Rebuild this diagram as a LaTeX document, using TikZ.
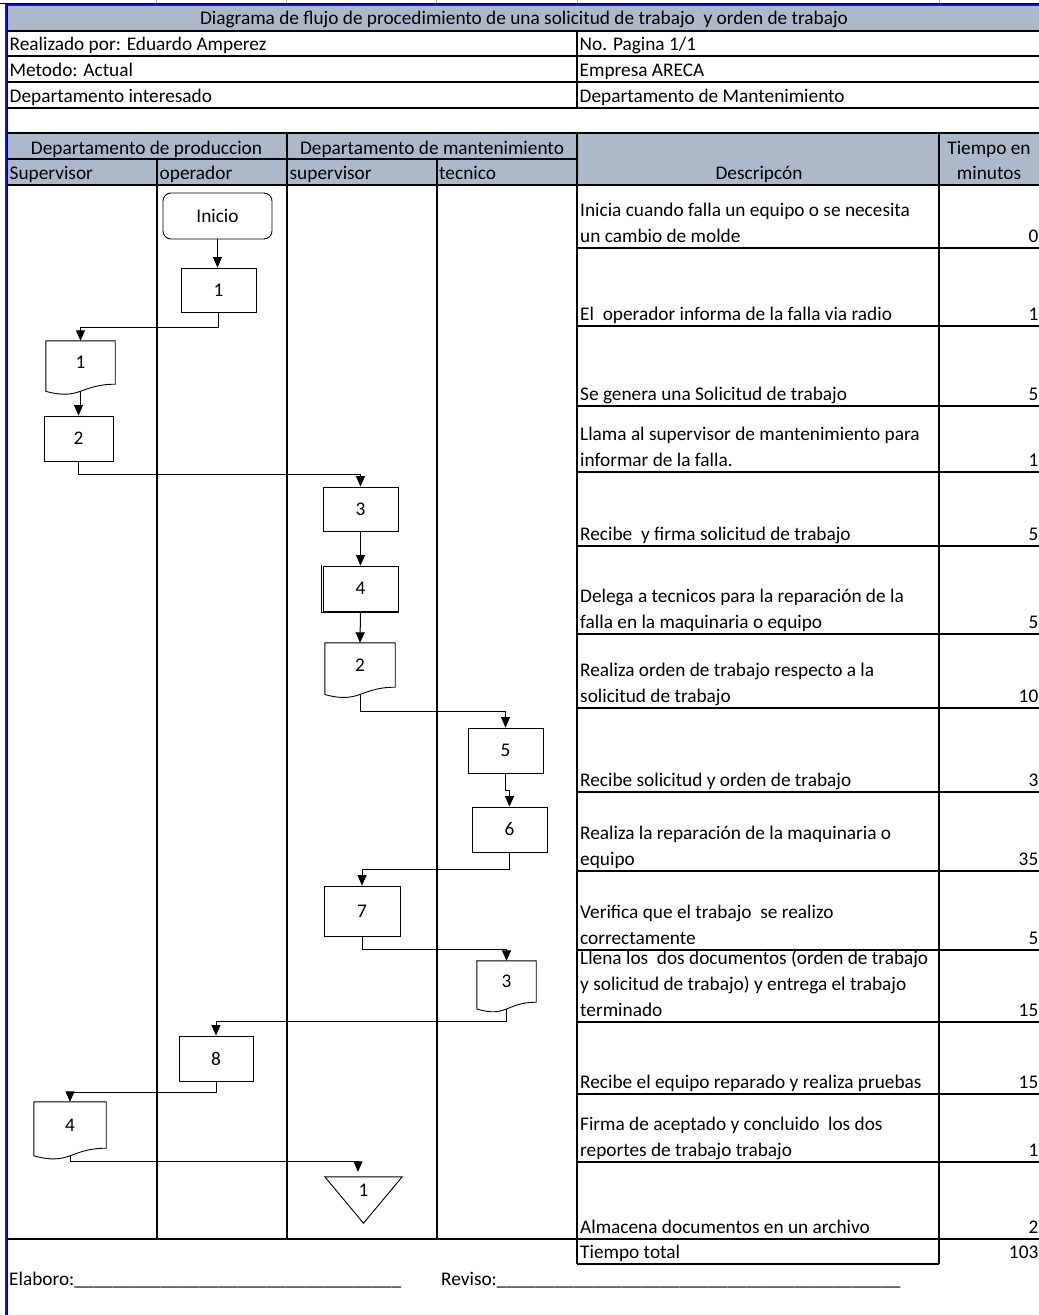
\documentclass[tikz,border=0pt]{standalone}
\usepackage{fontspec}
\setmainfont{Carlito}
\usetikzlibrary{arrows.meta,calc}
\definecolor{headfill}{HTML}{ACB9CA}
\definecolor{frameblue}{HTML}{1414D2}
% one line of a description cell, and a right-aligned time value
\newcommand\dline[3]{\node[txt,anchor=base west] (#1) at (580,#2) {#3};}
\newcommand\dval[3]{\node[txt,anchor=base east] (#1) at (1038.5,#2) {#3};}
\newcommand\blankline[1]{\foreach\i in {1,...,#1}{\_}}
% flowchart "document" symbol drawn around an invisible node
\newcommand\docshape[1]{%
  \draw[shapeline] ($(#1.south west)!-0.1646!(#1.north west)$) -- (#1.north west) -- (#1.north east) -- (#1.south east)
    .. controls (#1.south) and ($(#1.south)!-0.381!(#1.north)$) .. ($(#1.south west)!-0.1646!(#1.north west)$);
  \coordinate (#1-out) at ($(#1.south)!-0.1733!(#1.north)$);}
\begin{document}
\begin{tikzpicture}[x=1pt,y=-1pt,
  txt/.style={inner sep=0pt,font=\fontsize{19.3}{26}\selectfont},
  tline/.style={line width=2pt,black},
  shapeline/.style={line width=0.9pt,black},
  flowbox/.style={txt,draw,shapeline},
  docnode/.style={txt},
  arr/.style={line width=1pt,-{Triangle[width=9pt,length=10.5pt]}}]
\useasboundingbox (0,0) rectangle (1039,1315);
\fill[white] (0,0) rectangle (1039,1315);

% shaded header bands
\fill[headfill] (7,5) rectangle (1041,30.7);
\fill[headfill] (7,133.4) rectangle (1041,185);

% small column marks above the sheet
\foreach \xx in {156.7,286.7,436.5,577,939}
  \draw[gray!60,line width=1pt] (\xx,0) -- (\xx,2.6);

% header grid
\foreach \yy in {30.7,56.4,82,107.7,133.4,185}
  \draw[tline] (7,\yy) -- (1041,\yy);
\draw[tline] (577,30.7) -- (577,107.7);
\draw[tline] (7,159) -- (577,159);

% swimlanes and table columns
\draw[tline] (156.7,159) -- (156.7,1239);
\draw[tline] (286.7,133.4) -- (286.7,1239);
\draw[tline] (436.5,159) -- (436.5,1239);
\draw[tline] (577,133.4) -- (577,1264);
\draw[tline] (939,133.4) -- (939,1264);
\foreach \yy in {248,326,406,472,546,634,708,792,871,950,1022,1094,1162}
  \draw[tline] (577,\yy) -- (1041,\yy);
\draw[tline] (7,1239) -- (1041,1239);
\draw[tline] (577,1264) -- (939,1264);

% sheet frame
\draw[line width=1.4pt,black] (0,3.4) -- (1041,3.4);
\draw[line width=1.8pt,frameblue] (5,4.9) -- (1041,4.9);
\draw[line width=1.4pt,black] (7.6,5) -- (7.6,1315);
\draw[line width=2pt,frameblue] (5.6,4) -- (5.6,1315);

% header texts
\node[txt,anchor=base] (title) at (524,24.5) {Diagrama de flujo de procedimiento de una solicitud de trabajo~ y orden de trabajo};
\node[txt,anchor=base west] (autor) at (9.5,50) {Realizado por: Eduardo Amperez};
\node[txt,anchor=base west] (pag) at (579.5,50) {No. Pagina 1/1};
\node[txt,anchor=base west] (metodo) at (9.5,76.5) {Metodo: Actual};
\node[txt,anchor=base west] (empresa) at (579.5,76.5) {Empresa ARECA};
\node[txt,anchor=base west] (depint) at (9.5,102) {Departamento interesado};
\node[txt,anchor=base west] (depmant) at (579.5,102) {Departamento de Mantenimiento};

\node[txt,anchor=base] (hprod) at (146.5,154) {Departamento de produccion};
\node[txt,anchor=base] (hmant) at (432,154) {Departamento de mantenimiento};
\node[txt,anchor=base west] (hsup) at (9.5,179.5) {Supervisor};
\node[txt,anchor=base west] (hop) at (159.5,179.5) {operador};
\node[txt,anchor=base west] (hsupm) at (289.5,179.5) {supervisor};
\node[txt,anchor=base west] (htec) at (439,179.5) {tecnico};
\node[txt,anchor=base] (hdesc) at (759,179.5) {Descripcón};
\node[txt,anchor=base] (htiem) at (989,154) {Tiempo en};
\node[txt,anchor=base] (hmin) at (989,179.5) {minutos};

% description column
\dline{r1a}{216.5}{Inicia cuando falla un equipo o se necesita}
\dline{r1b}{242.5}{un cambio de molde}
\dval{v1}{242.5}{0}
\dline{r2a}{320.5}{El~ operador informa de la falla via radio}
\dval{v2}{320.5}{1}
\dline{r3a}{400.5}{Se genera una Solicitud de trabajo}
\dval{v3}{400.5}{5}
\dline{r4a}{440.5}{Llama al supervisor de mantenimiento para}
\dline{r4b}{466.5}{informar de la falla.}
\dval{v4}{466.5}{1}
\dline{r5a}{540.5}{Recibe~ y firma solicitud de trabajo}
\dval{v5}{540.5}{5}
\dline{r6a}{602.5}{Delega a tecnicos para la reparación de la}
\dline{r6b}{628.5}{falla en la maquinaria o equipo}
\dval{v6}{628.5}{5}
\dline{r7a}{676.5}{Realiza orden de trabajo respecto a la}
\dline{r7b}{702.5}{solicitud de trabajo}
\dval{v7}{702.5}{10}
\dline{r8a}{786.5}{Recibe solicitud y orden de trabajo}
\dval{v8}{786.5}{3}
\dline{r9a}{839.5}{Realiza la reparación de la maquinaria o}
\dline{r9b}{865.5}{equipo}
\dval{v9}{865.5}{35}
\dline{r10a}{918.5}{Verifica que el trabajo~ se realizo}
\dline{r10b}{944.5}{correctamente}
\dval{v10}{944.5}{5}
\dline{r11a}{964.5}{Llena los~ dos documentos (orden de trabajo}
\dline{r11b}{990.5}{y solicitud de trabajo) y entrega el trabajo}
\dline{r11c}{1016.5}{terminado}
\dval{v11}{1016.5}{15}
\dline{r12a}{1088.5}{Recibe el equipo reparado y realiza pruebas}
\dval{v12}{1088.5}{15}
\dline{r13a}{1130.5}{Firma de aceptado y concluido~ los dos}
\dline{r13b}{1156.5}{reportes de trabajo trabajo}
\dval{v13}{1156.5}{1}
\dline{r14a}{1233.5}{Almacena documentos en un archivo}
\dval{v14}{1233.5}{2}
\dline{rtot}{1258.5}{Tiempo total}
\dval{vtot}{1258.5}{103}

% flowchart symbols
\node[flowbox,rounded corners=8pt,minimum width=109pt,minimum height=46pt] (ini) at (217.5,216) {Inicio};
\node[flowbox,minimum width=75pt,minimum height=44pt] (b1) at (218.5,290) {1};
\node[docnode,minimum width=69pt,minimum height=43pt] (d1) at (80.5,362.5) {1};
\node[flowbox,minimum width=69pt,minimum height=45pt] (b2) at (78.5,438.5) {2};
\node[flowbox,minimum width=75pt,minimum height=44pt] (b3) at (360.5,509) {3};
\node[flowbox,minimum width=75pt,minimum height=45pt] (b4) at (360.5,588.5) {4};
\node[docnode,minimum width=70pt,minimum height=44pt] (d2) at (360,665) {2};
\node[flowbox,minimum width=75pt,minimum height=45pt] (b5) at (505.5,750.5) {5};
\node[flowbox,minimum width=75pt,minimum height=45pt] (b6) at (509.5,829.5) {6};
\node[flowbox,minimum width=76pt,minimum height=50pt] (b7) at (362,911) {7};
\node[docnode,minimum width=59pt,minimum height=41pt] (d3) at (506.5,981.5) {3};
\node[flowbox,minimum width=74pt,minimum height=45pt] (b8) at (216,1058.5) {8};
\node[docnode,minimum width=72pt,minimum height=46pt] (d4) at (70,1125) {4};
\node[txt,minimum width=77pt,minimum height=46pt,text height=12.2pt,text depth=20pt] (tri) at (363.5,1200) {1};

\docshape{d1}
\docshape{d2}
\docshape{d3}
\docshape{d4}
% slight shadow edge on operation 4
\draw[line width=0.8pt] ([xshift=-1pt,yshift=0.5pt]b4.north west) -- ([xshift=-1pt,yshift=-1pt]b4.south west) -- ([xshift=0.5pt,yshift=-1pt]b4.south east);
\draw[shapeline] (tri.north west) -- (tri.north east) -- (tri.south) -- cycle;

% connectors
\draw[arr] (ini.south) -- (ini.south |- b1.north);
\draw[arr] (b1.south) -- ++(0,15) -| (d1.north);
\draw[arr] (d1-out) -- ++(0,14) -| (b2.north);
\draw[arr] (b2.south) -- ++(0,13) -| (b3.north);
\draw[arr] (b3.south) -- (b4.north);
\draw[arr] (b4.south) -- (d2.north);
\draw[arr] (d2-out) -- ++(0,17) -| (b5.north);
\draw[arr] (b5.south) -- ++(0,17) -| (b6.north);
\draw[arr] (b6.south) -- ++(0,17) -| (b7.north);
\draw[arr] (b7.south) -- ++(0,13) -| (d3.north);
\draw[arr] (d3-out) -- ++(0,12) -| (b8.north);
\draw[arr] (b8.south) -- ++(0,11) -| (d4.north);
\draw[arr,shorten >=5pt] (d4-out) -- ++(0,5) -| ([xshift=-5.5pt]tri.north);

% signatures
\node[txt,anchor=base west] (elab) at (9,1285) {Elaboro:\blankline{34}};
\node[txt,anchor=base west] (revi) at (441,1285) {Reviso:\blankline{42}};
\end{tikzpicture}
\end{document}
